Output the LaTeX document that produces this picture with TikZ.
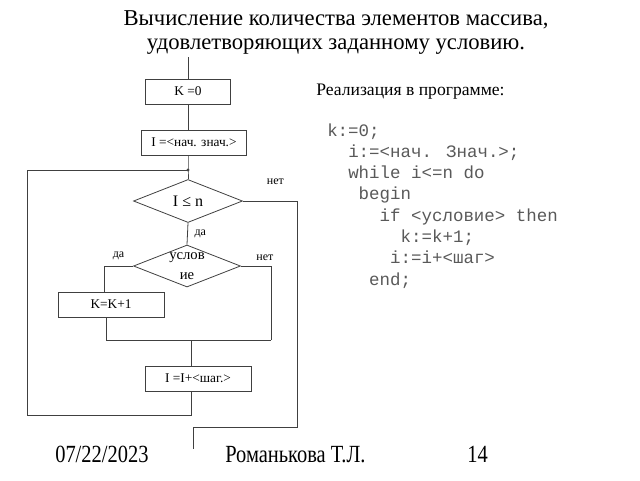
\documentclass[tikz,border=0pt]{standalone}
\usepackage{fontspec}
\setmainfont{Liberation Serif}
\newfontfamily\codefont{Liberation Mono}
\newfontfamily\footfont[FakeStretch=0.83]{Liberation Serif}
\usetikzlibrary{shapes.geometric,calc}

\tikzset{
  flowbox/.style={rectangle,draw=black!75,line width=.6pt,minimum height=18.75pt,inner sep=0pt,font=\fontsize{10}{12}\selectfont},
  flowrhomb/.style={diamond,draw=black!75,line width=.6pt,inner sep=0pt},
  rhombtext/.style={font=\fontsize{11}{14.5}\selectfont,align=center,inner sep=0pt},
  flowline/.style={draw=black!75,line width=.6pt},
  branchlabel/.style={font=\fontsize{9}{10}\selectfont,inner sep=1pt},
  codeline/.style={anchor=base west,inner sep=0pt,font=\codefont\fontsize{13.1}{14}\selectfont,text=black!65},
  footline/.style={anchor=base west,inner sep=0pt,font=\footfont\fontsize{18.5}{20}\selectfont},
}

\begin{document}
\begin{tikzpicture}[x=0.75pt,y=-0.75pt]
	\useasboundingbox (0,0) rectangle (640,480);

	% heading
	\node[anchor=base,inner sep=0pt,font=\fontsize{17}{20}\selectfont] (title1) at (336,25) {Вычисление количества элементов массива,};
	\node[anchor=base,inner sep=0pt,font=\fontsize{17}{20}\selectfont] (title2) at (336,49) {удовлетворяющих заданному условию.};

	% flowchart blocks
	\node[flowbox,minimum width=64pt] (k0) at (188,91.5) {K =0};
	\node[flowbox,minimum width=79pt] (i0) at (194,142.5) {I =<нач. знач.>};
	\node[flowrhomb,minimum width=81.75pt,minimum height=32.25pt] (cmp) at (188,201) {};
	\node[rhombtext,font=\fontsize{12}{14}\selectfont] (cmptext) at (cmp) {I ≤ n};
	\node[flowrhomb,minimum width=80.25pt,minimum height=31.5pt] (cond) at (187,266) {};
	\node[rhombtext] (condtext) at (cond) {услов\\ие};
	\node[flowbox,minimum width=79.5pt] (k1) at (111,304.5) {K=K+1};
	\node[flowbox,minimum width=79.5pt] (i1) at (198,378.5) {I =I+<шаг.>};

	\coordinate (start) at (188,57);
	\coordinate (join) at (188,170);
	\coordinate (rjoin) at (271,340);
	\coordinate (merge) at (191,340);
	\coordinate (loopbl) at (27,415);
	\coordinate (exitbr) at (297,427);
	\coordinate (exit) at (193,449);

	% connectors
	\draw[flowline] (start) -- (start |- k0.north);
	\draw[flowline] (k0.south) -- (k0 |- i0.north);
	\draw[flowline] (k0 |- i0.south) -- (join) -- (cmp.north);
	\fill[black!75] (join) circle[radius=1.2pt];
	\draw[flowline] (cmp.south) -- node[branchlabel,right=4pt] (yes1) {да} (cond.north);
	\draw[flowline] (cond.west) -| node[branchlabel,pos=.25,above=3pt] (yes2) {да} ([xshift=-5.25pt]k1.north);
	\draw[flowline] (cond.east) -| node[branchlabel,pos=.4,above=3pt] (no2) {нет} (rjoin);
	\draw[flowline] ([xshift=-3.75pt]k1.south) |- (rjoin);
	\draw[flowline] (merge) -- (merge |- i1.north);
	\draw[flowline] (merge |- i1.south) |- (loopbl) |- (join);
	\draw[flowline] (cmp.east) -| node[branchlabel,pos=.3,above=11pt] (no1) {нет} (exitbr) -| (exit);

	% program text
	\node[anchor=base west,inner sep=0pt,font=\fontsize{13.2}{15}\selectfont] (impl) at (316,95) {Реализация в программе:};
	\node[codeline] (c1) at (327,136) {k:=0;};
	\node[codeline] (c2) at (348,157.3) {i:=<нач. Знач.>;};
	\node[codeline] (c3) at (348,178.6) {while i<=n do};
	\node[codeline] (c4) at (358.4,199.9) {begin};
	\node[codeline] (c5) at (379.4,221.2) {if <условие> then};
	\node[codeline] (c6) at (400.4,242.5) {k:=k+1;};
	\node[codeline] (c7) at (389.9,263.8) {i:=i+<шаг>};
	\node[codeline] (c8) at (368.9,285.1) {end;};

	% footer
	\node[footline] (date) at (55,462) {07/22/2023};
	\node[footline] (author) at (225,462) {Романькова Т.Л.};
	\node[footline] (page) at (467,462) {14};
\end{tikzpicture}
\end{document}
